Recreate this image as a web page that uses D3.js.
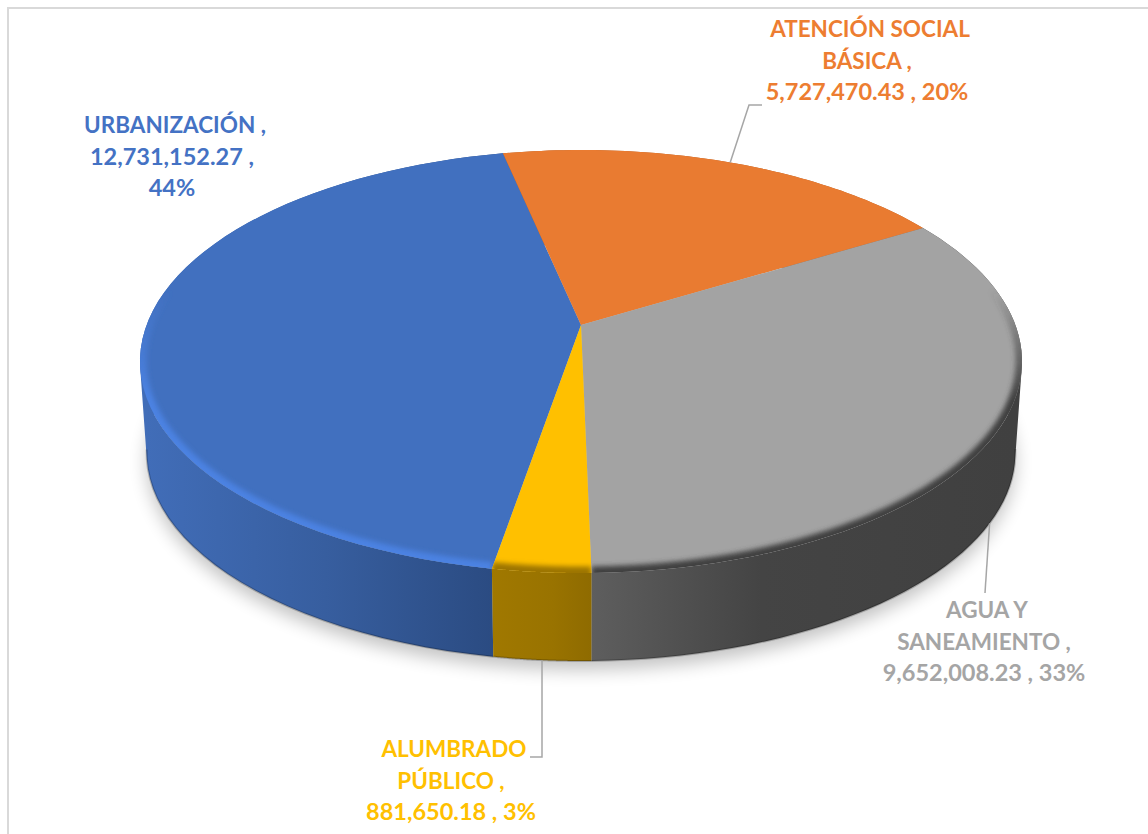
<!DOCTYPE html>
<html>
<head>
<meta charset="utf-8">
<script src="https://cdn.jsdelivr.net/npm/d3@7"></script>
<style>
  body { margin: 0; background: #fff; }
  text { font-family: Lato, "Open Sans", sans-serif; font-weight: 700; font-size: 23.5px; text-anchor: middle; }
  text.caps { font-size: 22.5px; }
</style>
</head>
<body>
<div id="chart"></div>
<script>
const categories = ["URBANIZACIÓN", "ATENCIÓN SOCIAL BÁSICA", "AGUA Y SANEAMIENTO", "ALUMBRADO PÚBLICO"]
const values = [12731152.27, 5727470.43, 9652008.23, 881650.18]
const labelLines = [
  ["URBANIZACIÓN ,", "12,731,152.27 ,", "44%"],
  ["ATENCIÓN SOCIAL", "BÁSICA ,", "5,727,470.43 , 20%"],
  ["AGUA Y", "SANEAMIENTO ,", "9,652,008.23 , 33%"],
  ["ALUMBRADO", "PÚBLICO ,", "881,650.18 , 3%"]
]
const colors = ["#4170bf", "#e97b31", "#a3a3a3", "#ffc000"]
const textColors = ["#4472c4", "#ed7d31", "#a5a5a5", "#ffc000"]
const rimColors = ["#4b82e2", "#e97b31", "#404040", "#9c7500"]
const wallStops = [
  [[0, "#416db8"], [0.5, "#375e9f"], [1, "#2a4a80"]],
  [[0, "#b25d25"], [1, "#b25d25"]],
  [[0, "#5e5e5e"], [0.4, "#444444"], [1, "#404040"]],
  [[0, "#a07800"], [0.6, "#997300"], [1, "#8f6b00"]]
]

const width = 1148, height = 834
const cx = 581, cy = 325     // where the slices meet
const persp = 0.1726         // perspective of the tilted disc
const halfW = 434.4, halfH = 205.2
const depth = 91.7, baseScale = 0.985

// label placement: centre x, first baseline, and the leader elbow points
const labelPos = [
  { x: 172, y: 133 },
  { x: 867, y: 37, leader: "top", elbow: [[749, 105], [762, 105]] },
  { x: 984, y: 618, leader: "base", elbow: [[985, 593]] },
  { x: 451, y: 757, leader: "base", elbow: [[542, 757], [530, 757]] }
]

const svg = d3.select("#chart").append("svg").attr("width", width).attr("height", height)
const defs = svg.append("defs")

svg.append("rect").attr("x", 8).attr("y", 8).attr("width", width + 20).attr("height", height + 20)
  .attr("fill", "#fff").attr("stroke", "#d9d9d9").attr("stroke-width", 2)

const xTop = d3.scaleLinear().domain([-1, 1]).range([cx - halfW, cx + halfW])
const yTop = d3.scaleLinear().domain([-1, 1]).range([cy - halfH, cy + halfH])
const xBase = d3.scaleLinear().domain([-1, 1]).range([cx - halfW * baseScale, cx + halfW * baseScale])
const yBase = d3.scaleLinear().domain([-1, 1]).range([cy + depth - halfH * baseScale, cy + depth + halfH * baseScale])

// angle 0 is the back of the disc, going clockwise as seen from above
function project(a, xs, ys) {
  const u = Math.sin(a), v = -Math.cos(a), w = 1 - persp * v
  return [xs(u / w), ys(v / w)]
}
const onTop = a => project(a, xTop, yTop)
const onBase = a => project(a, xBase, yBase)
const sweep = (a0, a1) => d3.range(0, 61).map(i => a0 + (a1 - a0) * i / 60)
const line = d3.line()

const pie = d3.pie().sort(null).startAngle(-170.2 * Math.PI / 180).endAngle(189.8 * Math.PI / 180)
const slices = pie(values)

// soft shadow below the disc
defs.append("filter").attr("id", "shadowBlur").attr("x", "-10%").attr("y", "-10%").attr("width", "120%").attr("height", "130%")
  .append("feGaussianBlur").attr("stdDeviation", 9)
defs.append("filter").attr("id", "rimBlur").attr("filterUnits", "userSpaceOnUse")
  .attr("x", 0).attr("y", 0).attr("width", width).attr("height", height)
  .append("feGaussianBlur").attr("stdDeviation", 2.5)

svg.append("path")
  .attr("d", line(sweep(0, 2 * Math.PI).map(onBase)) + "Z")
  .attr("transform", "translate(0,9)")
  .attr("fill", "#000").attr("opacity", 0.24).attr("filter", "url(#shadowBlur)")

// side walls, one quad per step so the silhouette joins top and base
slices.forEach((d, i) => {
  const angles = sweep(d.startAngle, d.endAngle)
  const top = angles.map(onTop)
  const base = angles.map(onBase)
  const wall = d3.range(0, angles.length - 1).map(k => {
    const quad = [top[k], top[k + 1], base[k + 1], base[k]]
    if (d3.polygonArea(quad) < 0) quad.reverse()
    return line(quad) + "Z"
  }).join("")
  const grad = defs.append("linearGradient").attr("id", "wall" + i)
    .attr("gradientUnits", "userSpaceOnUse")
    .attr("x1", d3.min(base, p => p[0])).attr("x2", d3.max(base, p => p[0]))
    .attr("y1", 0).attr("y2", 0)
  grad.selectAll("stop").data(wallStops[i]).join("stop")
    .attr("offset", s => s[0]).attr("stop-color", s => s[1])
  svg.append("path").attr("d", wall).attr("fill", `url(#wall${i})`)
  // darker foot of the wall, only where it faces the viewer
  const foot = angles.filter(a => -Math.cos(a) > 0.15).map(onBase)
  if (foot.length > 1) {
    svg.append("path").attr("d", line(foot)).attr("fill", "none")
      .attr("stroke", "#000").attr("stroke-opacity", 0.22).attr("stroke-width", 2)
  }
})

// top faces, with the bevel as a blurred stroke kept inside each slice
slices.forEach((d, i) => {
  const face = line([[xTop(0), yTop(0)]].concat(sweep(d.startAngle, d.endAngle).map(onTop))) + "Z"
  defs.append("clipPath").attr("id", "face" + i).append("path").attr("d", face)
  svg.append("path").attr("d", face).attr("fill", colors[i])

  const grad = defs.append("linearGradient").attr("id", "rim" + i)
    .attr("gradientUnits", "userSpaceOnUse")
    .attr("x1", 0).attr("x2", 0).attr("y1", 290).attr("y2", 400)
  grad.append("stop").attr("offset", 0).attr("stop-color", rimColors[i]).attr("stop-opacity", 0)
  grad.append("stop").attr("offset", 1).attr("stop-color", rimColors[i]).attr("stop-opacity", 1)
  svg.append("g").attr("clip-path", `url(#face${i})`)
    .append("path")
    .attr("d", line(sweep(d.startAngle, d.endAngle).map(onTop)))
    .attr("fill", "none").attr("stroke", `url(#rim${i})`).attr("stroke-width", 13)
    .attr("filter", "url(#rimBlur)")
})

// leaders start at each slice's middle angle
slices.forEach((d, i) => {
  const pos = labelPos[i]
  if (!pos.leader) return
  const mid = (d.startAngle + d.endAngle) / 2
  const start = pos.leader === "top" ? onTop(mid) : onBase(mid)
  svg.append("path").attr("d", line([start].concat(pos.elbow)))
    .attr("fill", "none").attr("stroke", "#a6a6a6").attr("stroke-width", 1.5)
})

const labels = svg.selectAll("g.label").data(labelLines).join("g").attr("class", "label")
  .attr("fill", (d, i) => textColors[i])
labels.selectAll("text").data((d, i) => d.map((t, j) => ({ t, j, pos: labelPos[i] }))).join("text")
  .attr("class", d => /\d/.test(d.t) ? null : "caps")
  .attr("x", d => d.pos.x + (d.j === 0 ? 3 : 0)).attr("y", d => d.pos.y + d.j * 31.5)
  .text(d => d.t)
</script>
</body>
</html>
